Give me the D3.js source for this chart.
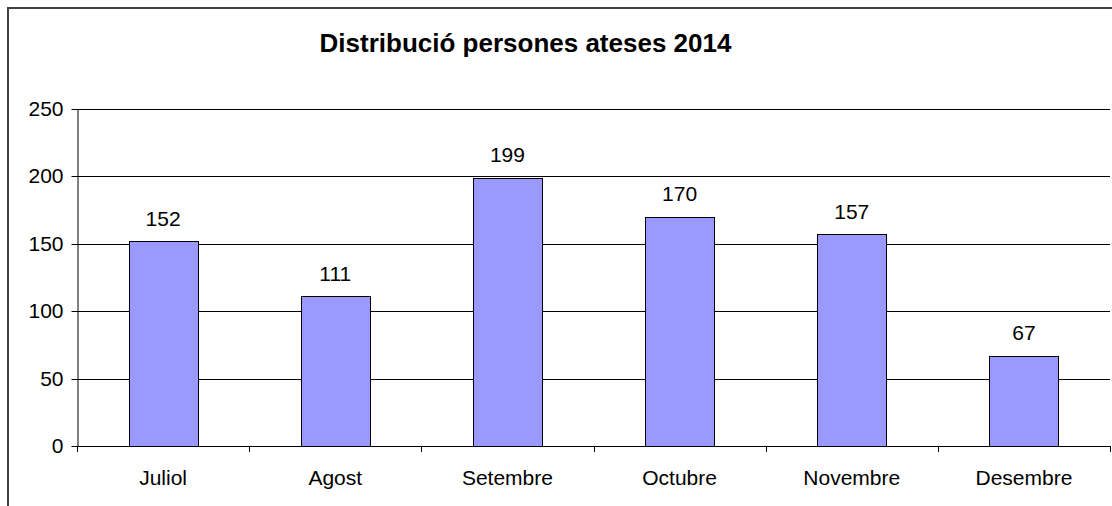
<!DOCTYPE html>
<html>
<head>
<meta charset="utf-8">
<script src="https://cdn.jsdelivr.net/npm/d3@7"></script>
<style>
  body { margin: 0; background: #fff; }
  svg { display: block; font-family: "Liberation Sans", Arial, sans-serif; }
</style>
</head>
<body>
<div class="chart"></div>
<script>
// dades llegides del gràfic
var months = ["Juliol", "Agost", "Setembre", "Octubre", "Novembre", "Desembre"];
var persons = [152, 111, 199, 170, 157, 67];
var yTicks = [0, 50, 100, 150, 200, 250];
var title = "Distribució persones ateses 2014";

var width = 1112, height = 506;
var plotLeft = 77, plotRight = 1110, plotTop = 109, plotBottom = 446;

var svg = d3.select(".chart")
  .append("svg")
    .attr("width", width)
    .attr("height", height);

// marc exterior
svg.append("rect")
  .attr("x", 8).attr("y", 8)
  .attr("width", width + 20).attr("height", height + 20)
  .style("fill", "none")
  .style("stroke", "#404040")
  .style("stroke-width", 2);

svg.append("text")
  .attr("x", 525.5).attr("y", 52)
  .style("text-anchor", "middle")
  .style("font-weight", "bold")
  .style("font-size", "26px")
  .text(title);

var x = d3.scaleBand()
  .domain(months)
  .range([plotLeft, plotRight])
  .paddingInner(0.6)
  .paddingOuter(0.3);

var y = d3.scaleLinear()
  .domain([0, 250])
  .range([plotBottom, plotTop]);

// línies de la graella
svg.selectAll(".grid")
  .data(yTicks.filter(function(d) { return d > 0; }))
  .enter().append("line")
    .attr("x1", plotLeft).attr("x2", plotRight)
    .attr("y1", function(d) { return Math.round(y(d)) + 0.5; })
    .attr("y2", function(d) { return Math.round(y(d)) + 0.5; })
    .style("stroke", "#000")
    .style("stroke-width", 1);

// barres
svg.selectAll(".bar")
  .data(persons)
  .enter().append("rect")
    .attr("x", function(d, i) { return Math.round(x(months[i])) + 0.5; })
    .attr("y", function(d) { return Math.round(y(d)) + 0.5; })
    .attr("width", Math.round(x.bandwidth()))
    .attr("height", function(d) { return Math.round(y(0)) - Math.round(y(d)); })
    .style("fill", "#9999FF")
    .style("stroke", "#000")
    .style("stroke-width", 1);

// etiquetes de valor
svg.selectAll(".val")
  .data(persons)
  .enter().append("text")
    .attr("x", function(d, i) { return x(months[i]) + x.bandwidth() / 2; })
    .attr("y", function(d) { return y(d) - 15.5; })
    .style("text-anchor", "middle")
    .style("font-size", "21px")
    .text(function(d) { return d; });

// eix Y
var yAxis = svg.append("g")
  .attr("transform", "translate(" + (plotLeft + 0.5) + ",0)")
  .call(d3.axisLeft(y).tickValues(yTicks).tickSize(6).tickPadding(8).tickSizeOuter(0));
yAxis.selectAll(".tick").attr("transform", function(d) { return "translate(0," + (Math.round(y(d)) + 0.5) + ")"; });
yAxis.selectAll("text").style("font-size", "21px").style("font-family", "Liberation Sans, Arial, sans-serif").style("fill", "#000");
yAxis.selectAll("line, path").style("stroke", "#000");

// eix X amb marques entre categories
var xg = svg.append("g");
xg.append("line")
  .attr("x1", plotLeft).attr("x2", plotRight)
  .attr("y1", plotBottom + 0.5).attr("y2", plotBottom + 0.5)
  .style("stroke", "#000");
var bounds = d3.range(months.length + 1).map(function(i) { return plotLeft + i * x.step(); });
xg.selectAll(".xt")
  .data(bounds)
  .enter().append("line")
    .attr("x1", function(d) { return Math.round(d) + 0.5; })
    .attr("x2", function(d) { return Math.round(d) + 0.5; })
    .attr("y1", plotBottom).attr("y2", plotBottom + 6)
    .style("stroke", "#000");
xg.selectAll(".xl")
  .data(months)
  .enter().append("text")
    .attr("x", function(d) { return x(d) + x.bandwidth() / 2; })
    .attr("y", 485)
    .style("text-anchor", "middle")
    .style("font-size", "21px")
    .text(function(d) { return d; });
</script>
</body>
</html>
